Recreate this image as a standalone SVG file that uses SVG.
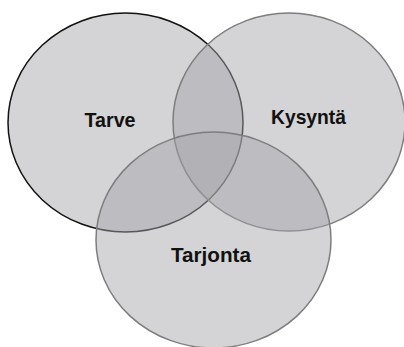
<svg xmlns="http://www.w3.org/2000/svg" width="404" height="347" viewBox="0 0 404 347">
  <style>
    .set { fill: #a5a6aa; fill-opacity: 0.48; stroke-width: 1.5; }
    .gray { stroke: #7d7d7f; }
    .dark { stroke: #111111; }
    .lbl { font-family: "Liberation Sans", Arial, sans-serif; font-weight: bold; font-size: 21px; fill: #111111; text-anchor: middle; }
  </style>
  <rect width="404" height="347" fill="#ffffff"/>
  <g id="tarve">
    <ellipse class="set dark" cx="125.5" cy="122.5" rx="117.5" ry="109.5"/>
    <text class="lbl" x="110" y="127" textLength="51" lengthAdjust="spacingAndGlyphs">Tarve</text>
  </g>
  <g id="kysynta">
    <ellipse class="set gray" cx="289" cy="122" rx="116" ry="109"/>
    <text class="lbl" x="308.5" y="124" textLength="75" lengthAdjust="spacingAndGlyphs">Kysyntä</text>
  </g>
  <g id="tarjonta">
    <ellipse class="set gray" cx="213.5" cy="240" rx="117.5" ry="108"/>
    <text class="lbl" x="211" y="262" textLength="80" lengthAdjust="spacingAndGlyphs">Tarjonta</text>
  </g>
  <g id="connectors"/>
</svg>
